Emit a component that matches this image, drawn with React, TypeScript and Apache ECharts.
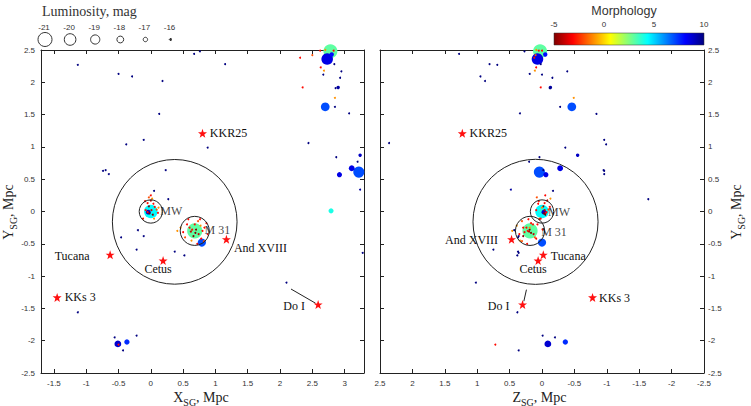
import React, { useEffect, useRef } from 'react';
import * as echarts from 'echarts';

// ---------- data ----------
// [X_SG, Y_SG, Z_SG, morphology T, absolute magnitude]
const BRIGHT: number[][] = [
  [0.00, 0.00, 0.00, 4.4, -20.8],
  [-0.04, -0.01, -0.03, 9.0, -17.2],
  [0.68, -0.30, 0.185, 3.0, -21.5],
  [0.79, -0.48, 0.00, 7.0, -18.6],
  [2.78, 2.48, 0.03, 3.0, -21.0],
  [2.73, 2.36, 0.07, 8.5, -20.0],
  [2.80, 2.43, -0.05, 8.0, -17.0],
  [2.70, 1.62, -0.46, 7.0, -18.8],
  [3.22, 0.61, 0.04, 7.0, -19.8],
  [3.11, 0.67, -0.28, 8.5, -17.6],
  [2.92, 0.57, -0.06, 8.5, -17.3],
  [3.24, 0.87, -0.55, 9.0, -16.6],
  [2.90, 1.92, -0.13, 9.5, -16.6],
  [2.79, 0.01, 0.02, 4.0, -17.3],
  [-0.51, -2.05, -0.09, 8.8, -18.0],
  [-0.37, -2.02, -0.36, 7.5, -17.4],
  [3.24, 0.34, 0.48, 9.5, -15.5],
];

// faint field dwarfs [X, Y, Z] (irregulars)
const FIELD: number[][] = [
  [0.76, 2.48, 0.27], [0.67, 2.44, 1.28], [1.15, 2.28, 0.81], [-1.13, 2.27, 0.69],
  [-0.50, 2.13, 0.19], [-0.29, 2.09, 0.95], [0.18, 2.02, 0.88], [2.95, 2.17, -0.39],
  [2.67, 2.12, 0.00], [2.93, 2.07, -0.16], [2.84, 2.28, 0.02], [2.86, 1.91, -0.12],
  [2.85, 1.62, -0.28], [3.07, 1.52, 0.34], [0.13, 1.51, -0.84], [-0.11, 1.11, -0.96],
  [-0.38, 1.04, -0.99], [2.44, 1.06, 2.36], [0.88, 0.99, -0.36], [2.87, 0.84, 0.04],
  [3.20, 0.77, 0.20], [-0.70, 0.64, -0.95], [-0.74, 0.63, -0.96], [-0.65, 0.58, -0.96],
  [0.23, 0.64, -0.02], [0.05, 0.32, -0.17], [0.27, 0.19, -1.64], [-0.20, -0.29, 0.43],
  [-0.46, -0.40, 0.37], [-0.11, -0.38, 0.36], [-0.22, -0.59, 0.75], [0.37, -0.62, 0.37],
  [0.52, -0.68, 0.38], [3.28, -0.64, 0.36], [2.10, -1.10, 1.02], [-1.13, -1.56, 0.38],
  [-0.22, -1.92, -0.01], [-0.56, -1.95, -0.20], [-0.43, -2.15, 0.36],
];
const FIELD_T = 10;
const FAINT_MAG = -13;

// faint early-type dwarfs [X, Y, Z, T]
const FAR_DSPH: number[][] = [
  [2.31, 2.38, 0.12, -3], [2.50, 2.42, 0.10, -2], [2.62, 2.49, 0.05, -3], [2.70, 2.50, 0.09, -1],
  [2.83, 2.49, 0.00, -3], [2.63, 2.23, 0.09, -3], [2.68, 2.18, 0.11, -1], [2.35, 1.92, 0.02, -3],
  [2.85, 1.76, -0.49, -1], [-0.50, -2.06, 0.72, -3],
];

const MW_SATELLITES: number[][] = [
  [-0.09, 0.16, 0.05, -3], [-0.05, 0.13, -0.04, -3], [0.00, 0.17, -0.08, -4], [0.04, 0.12, 0.06, -3],
  [-0.03, 0.08, -0.02, -5], [-0.08, 0.02, 0.09, -3], [0.09, 0.03, -0.10, -2], [0.11, -0.02, -0.06, -3],
  [0.05, -0.11, 0.04, -1], [-0.12, -0.11, 0.02, -3], [0.03, -0.05, -0.05, -5], [0.06, 0.07, -0.12, -3],
  [0.00, 0.25, -0.05, -3], [-0.03, 0.22, 0.08, -2], [0.02, 0.20, -0.13, -1], [-0.02, -0.03, -0.03, -5],
  [0.01, 0.02, -0.04, -4], [-0.05, -0.01, -0.07, -3], [0.12, 0.06, 0.00, -1],
];

const M31_SATELLITES: number[][] = [
  [0.83, -0.25, 0.29, -3], [0.56, -0.20, 0.14, -3], [0.73, -0.15, 0.31, -2], [0.50, -0.32, 0.27, -3],
  [0.78, -0.42, 0.09, -3], [0.63, -0.45, 0.34, -1], [0.86, -0.18, 0.17, -3], [0.70, -0.28, 0.19, -5],
  [0.60, -0.25, 0.24, -3], [0.74, -0.35, 0.13, -4], [0.80, -0.30, 0.22, -3], [0.66, -0.38, 0.29, -5],
  [0.68, -0.20, 0.07, -3], [0.53, -0.40, 0.11, -2], [0.76, -0.12, 0.21, -3], [0.46, -0.25, 0.19, -1],
  [0.72, -0.50, 0.23, -3], [0.88, -0.35, 0.35, -3], [0.58, -0.12, 0.04, -3], [0.82, -0.46, 0.31, -2],
  [0.64, -0.28, -0.01, -3], [0.77, -0.22, 0.39, -1], [0.41, -0.30, 0.46, -1], [0.69, -0.33, 0.17, -5],
  [0.62, -0.31, 0.20, -4],
];

// named objects: name, X, Y, Z
const STARS: [string, number, number, number][] = [
  ['KKR25', 0.80, 1.21, 1.23],
  ['Tucana', -0.63, -0.67, -0.02],
  ['Cetus', 0.19, -0.76, 0.06],
  ['And XVIII', 1.17, -0.43, 0.47],
  ['KKs 3', -1.45, -1.33, -0.78],
  ['Do I', 2.59, -1.44, 0.30],
];
const GROUP_NAMES: [string, number, number, number][] = [
  ['MW', 0.0, 0.0, 0.0],
  ['M 31', 0.68, -0.30, 0.185],
];
// circles: X, Y, Z, radius (Mpc)
const CIRCLES: number[][] = [
  [0.0, 0.0, 0.0, 0.18],
  [0.68, -0.30, 0.185, 0.225],
  [0.37, -0.16, 0.10, 0.965],
];
const DOI_LINE_XY = [[2.17, -1.20], [2.55, -1.42]];
const DOI_LINE_ZY = [[0.24, -1.21], [0.28, -1.39]];

const X_TICKS = [-1.5, -1, -0.5, 0, 0.5, 1, 1.5, 2, 2.5, 3];
const LEGEND_MAGS = [-21, -20, -19, -18, -17, -16];
const COLORBAR_TICKS = [-5, 0, 5, 10];
const T_MIN = -5;
const T_MAX = 10;

// ---------- styles / layout ----------
const JET = ['#800000', '#ff0000', '#ff8000', '#ffff00', '#80ff80', '#00ffff', '#0080ff', '#0000ff', '#000080'];
const SERIF = "'Liberation Serif', 'Times New Roman', serif";
const SANS = "'Liberation Sans', Arial, sans-serif";
const STAR_PATH = 'path://M0,-10 L2.35,-3.24 L9.51,-3.09 L3.8,1.24 L5.88,8.09 L0,4 L-5.88,8.09 L-3.8,1.24 L-9.51,-3.09 L-2.35,-3.24 Z';
const STAR_OFFSET_LEFT: Record<string, number[]> = {
  'KKR25': [26, 0], 'Tucana': [-38, 1], 'Cetus': [-5, 8.5], 'And XVIII': [34, 9], 'KKs 3': [23, 0], 'Do I': [-24, 1],
};
const STAR_OFFSET_RIGHT: Record<string, number[]> = {
  'KKR25': [26, 0], 'Tucana': [25, 1], 'Cetus': [-5, 8.5], 'And XVIII': [-40, 1], 'KKs 3': [22, 0.5], 'Do I': [-24, 1],
};
const GROUP_OFFSET_LEFT: Record<string, number[]> = { 'MW': [20.5, -1], 'M 31': [22.7, -0.5] };
const GROUP_OFFSET_RIGHT: Record<string, number[]> = { 'MW': [17, 0], 'M 31': [24, 1.5] };

const radius = (m: number) => Math.max(1, 7 - 1.2 * (m + 21));

let measureCtx: CanvasRenderingContext2D | null = null;
function textWidth(text: string, size: number, family: string) {
  if (!measureCtx) measureCtx = document.createElement('canvas').getContext('2d');
  if (!measureCtx) return text.length * size * 0.5;
  measureCtx.font = `${size}px ${family}`;
  return measureCtx.measureText(text).width;
}

function txt(text: string, x: number, y: number, size: number, family: string, align = 'left', color = '#222') {
  return {
    type: 'text', x, y, silent: true,
    style: {
      text, fontSize: size, fontFamily: family, fill: color,
      align, verticalAlign: 'middle', textAlign: align, textVerticalAlign: 'middle',
    },
  };
}

function axisTitle(main: string, sub: string, cx: number, cy: number, rotated: boolean) {
  const MS = 14, SS = 10;
  const w1 = textWidth(main, MS, SERIF);
  const w2 = textWidth(sub, SS, SERIF);
  const w3 = textWidth(', Mpc', MS, SERIF);
  const W = w1 + w2 + w3;
  const x0 = -W / 2;
  return {
    type: 'group', x: cx, y: cy, rotation: rotated ? Math.PI / 2 : 0,
    children: [
      txt(main, x0, 0, MS, SERIF),
      txt(sub, x0 + w1, 5, SS, SERIF),
      txt(', Mpc', x0 + w1 + w2, 0, MS, SERIF),
    ],
  };
}

export default function App() {
  const ref = useRef<HTMLDivElement>(null);

  useEffect(() => {
    if (!ref.current) return;
    const chart = echarts.init(ref.current, undefined, { renderer: 'svg' });

    // build galaxy table [X, Y, Z, T, M]
    const galaxies: number[][] = [
      ...BRIGHT,
      ...FIELD.map((g) => [g[0], g[1], g[2], FIELD_T, FAINT_MAG]),
      ...FAR_DSPH.map((g) => [g[0], g[1], g[2], g[3], FAINT_MAG]),
      ...MW_SATELLITES.map((g) => [g[0], g[1], g[2], g[3], FAINT_MAG]),
      ...M31_SATELLITES.map((g) => [g[0], g[1], g[2], g[3], FAINT_MAG]),
    ].sort((a, b) => a[4] - b[4]);

    const leftData = galaxies.map((g) => [g[0], g[1], g[3], g[4]]);
    const rightData = galaxies.map((g) => [g[2], g[1], g[3], g[4]]);

    const axisBase = {
      type: 'value',
      axisLine: { show: true, onZero: false, lineStyle: { color: '#222', width: 1 } },
      splitLine: { show: false },
    };
    const tickBase = { show: true, inside: true, length: 4, lineStyle: { color: '#222', width: 1 } };
    const labelBase = { fontSize: 8, color: '#333', fontFamily: SANS };

    const leftX = { min: -1.7, max: 3.3 };
    const yRange = { min: -2.5, max: 2.5, interval: 0.5 };

    const xAxis = [
      { ...axisBase, gridIndex: 0, position: 'bottom', ...leftX,
        axisTick: { ...tickBase, customValues: X_TICKS },
        axisLabel: { ...labelBase, margin: 6, customValues: X_TICKS } },
      { ...axisBase, gridIndex: 1, position: 'bottom', min: -2.5, max: 2.5, interval: 0.5, inverse: true,
        axisTick: { ...tickBase }, axisLabel: { ...labelBase, margin: 6, showMinLabel: true, showMaxLabel: true } },
      { ...axisBase, gridIndex: 0, position: 'top', ...leftX,
        axisTick: { ...tickBase, customValues: X_TICKS }, axisLabel: { show: false } },
      { ...axisBase, gridIndex: 1, position: 'top', min: -2.5, max: 2.5, interval: 0.5, inverse: true,
        axisTick: { ...tickBase }, axisLabel: { show: false } },
    ];
    const yAxis = [
      { ...axisBase, gridIndex: 0, position: 'left', ...yRange, axisTick: { ...tickBase },
        axisLabel: { ...labelBase, margin: 6, showMinLabel: true, showMaxLabel: true } },
      { ...axisBase, gridIndex: 1, position: 'right', ...yRange, axisTick: { ...tickBase },
        axisLabel: { ...labelBase, margin: 4, showMinLabel: true, showMaxLabel: true } },
      { ...axisBase, gridIndex: 0, position: 'right', ...yRange, axisTick: { ...tickBase }, axisLabel: { show: false } },
      { ...axisBase, gridIndex: 1, position: 'left', ...yRange, axisTick: { ...tickBase }, axisLabel: { show: false } },
    ];

    const circleRender = (params: any, api: any) => {
      const c = api.coord([api.value(0), api.value(1)]);
      const s = api.size([api.value(2), api.value(2)]);
      return {
        type: 'circle',
        shape: { cx: c[0], cy: c[1], r: s[0] },
        style: { fill: 'none', stroke: '#222', lineWidth: 1 },
      };
    };

    const starSeries = (side: 'left' | 'right') => ({
      type: 'scatter',
      xAxisIndex: side === 'left' ? 0 : 1,
      yAxisIndex: side === 'left' ? 0 : 1,
      symbol: STAR_PATH,
      symbolSize: 9,
      z: 5,
      itemStyle: { color: '#ff1010', opacity: 1 },
      label: {
        show: true, position: 'inside', formatter: '{b}',
        fontFamily: SERIF, fontSize: 12, color: '#111',
      },
      data: STARS.map((s) => ({
        name: s[0],
        value: [side === 'left' ? s[1] : s[3], s[2]],
        label: { offset: (side === 'left' ? STAR_OFFSET_LEFT : STAR_OFFSET_RIGHT)[s[0]] },
      })),
    });

    const groupLabelSeries = (side: 'left' | 'right') => ({
      type: 'scatter',
      xAxisIndex: side === 'left' ? 0 : 1,
      yAxisIndex: side === 'left' ? 0 : 1,
      symbolSize: 1,
      z: 6,
      itemStyle: { color: 'rgba(0,0,0,0)' },
      label: {
        show: true, position: 'inside', formatter: '{b}',
        fontFamily: SERIF, fontSize: 12, color: '#111',
      },
      data: GROUP_NAMES.map((g) => ({
        name: g[0],
        value: [side === 'left' ? g[1] : g[3], g[2]],
        label: { offset: (side === 'left' ? GROUP_OFFSET_LEFT : GROUP_OFFSET_RIGHT)[g[0]] },
      })),
    });

    const graphic: any[] = [];
    // luminosity legend
    graphic.push(txt('Luminosity, mag', 42, 11.5, 14, SERIF, 'left', '#333'));
    LEGEND_MAGS.forEach((m, i) => {
      const cx = 45 + i * 25.1;
      graphic.push(txt(String(m), cx - 1, 27.5, 8, SANS, 'center', '#333'));
      graphic.push({
        type: 'circle', silent: true,
        shape: { cx, cy: 39.5, r: radius(m) },
        style: { fill: m >= -16 ? '#333' : 'none', stroke: '#333', lineWidth: 1 },
      });
    });
    // morphology colour bar
    const cbX = 554, cbW = 150;
    graphic.push(txt('Morphology', cbX + cbW / 2 - 5, 10.5, 12.5, SANS, 'center', '#333'));
    graphic.push({
      type: 'rect', silent: true,
      shape: { x: cbX, y: 33, width: cbW, height: 12 },
      style: {
        fill: new echarts.graphic.LinearGradient(0, 0, 1, 0,
          JET.map((c, i) => ({ offset: i / (JET.length - 1), color: c }))),
        stroke: '#333', lineWidth: 0.5,
      },
    });
    COLORBAR_TICKS.forEach((t) => {
      const x = cbX + ((t - T_MIN) / (T_MAX - T_MIN)) * cbW;
      graphic.push(txt(String(t), x, 24.5, 8, SANS, 'center', '#333'));
    });
    // axis titles
    graphic.push(axisTitle('X', 'SG', 201, 397, false));
    graphic.push(axisTitle('Z', 'SG', 539.5, 397, false));
    graphic.push(axisTitle('Y', 'SG', 8, 212, true));
    graphic.push(axisTitle('Y', 'SG', 736, 212, true));

    const sizeFn = (v: number[]) => 2 * radius(v[3]);

    const option: any = {
      animation: false,
      backgroundColor: '#fff',
      grid: [
        { left: 41, top: 50, width: 323, height: 323 },
        { left: 380, top: 50, width: 324, height: 323 },
      ],
      xAxis,
      yAxis,
      visualMap: [{
        type: 'continuous', show: false, min: T_MIN, max: T_MAX, dimension: 2,
        seriesIndex: [0, 1], inRange: { color: JET },
      }],
      series: [
        { type: 'scatter', xAxisIndex: 0, yAxisIndex: 0, data: leftData, symbolSize: sizeFn,
          itemStyle: { opacity: 1 }, z: 2 },
        { type: 'scatter', xAxisIndex: 1, yAxisIndex: 1, data: rightData, symbolSize: sizeFn,
          itemStyle: { opacity: 1 }, z: 2 },
        { type: 'custom', xAxisIndex: 0, yAxisIndex: 0, renderItem: circleRender, clip: false, z: 4,
          encode: { x: 0, y: 1 }, data: CIRCLES.map((c) => [c[0], c[1], c[3]]) },
        { type: 'custom', xAxisIndex: 1, yAxisIndex: 1, renderItem: circleRender, clip: false, z: 4,
          encode: { x: 0, y: 1 }, data: CIRCLES.map((c) => [c[2], c[1], c[3]]) },
        { type: 'line', xAxisIndex: 0, yAxisIndex: 0, data: DOI_LINE_XY, symbol: 'none', z: 4,
          lineStyle: { color: '#222', width: 1 } },
        { type: 'line', xAxisIndex: 1, yAxisIndex: 1, data: DOI_LINE_ZY, symbol: 'none', z: 4,
          lineStyle: { color: '#222', width: 1 } },
        starSeries('left'),
        starSeries('right'),
        groupLabelSeries('left'),
        groupLabelSeries('right'),
      ],
      graphic,
    };
    chart.setOption(option);
    return () => chart.dispose();
  }, []);

  return <div ref={ref} style={{ width: 751, height: 406, position: 'absolute', left: 0, top: 0 }} />;
}
